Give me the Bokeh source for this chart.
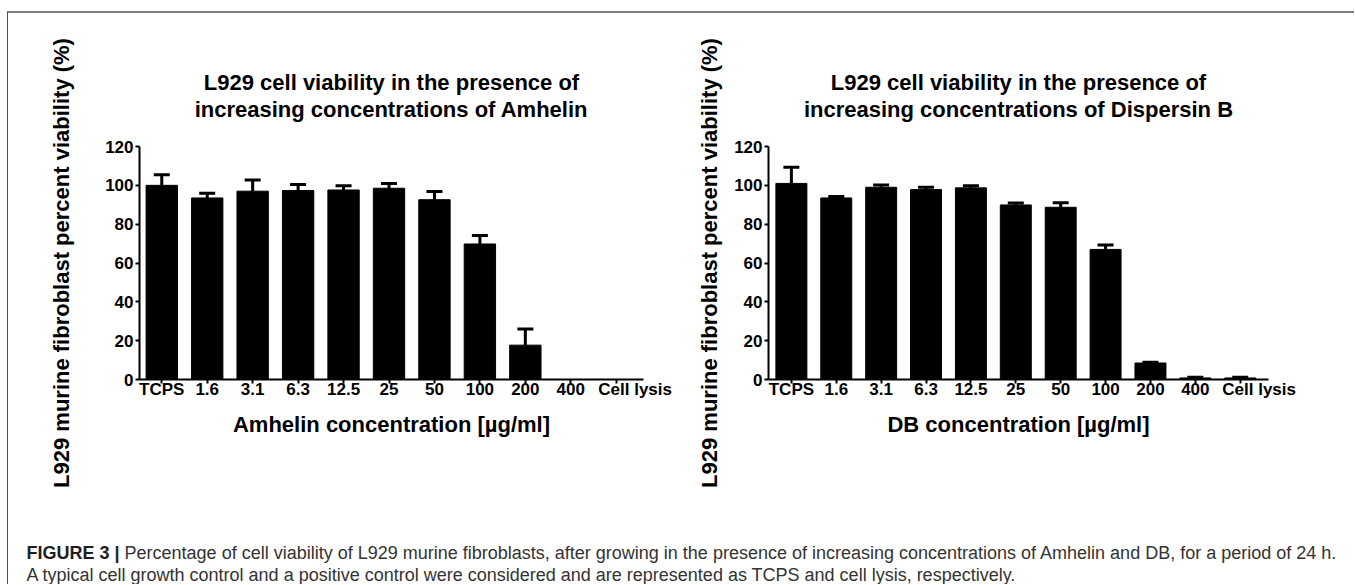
import numpy as np
from bokeh.plotting import figure
from bokeh.models import Range1d, FixedTicker, ColumnDataSource, Whisker, TeeHead, Label, Title
from bokeh.layouts import row, column
from bokeh.embed import file_html
from bokeh.resources import INLINE

# ---------------- data ----------------
categories = ["TCPS", "1.6", "3.1", "6.3", "12.5", "25", "50", "100", "200", "400", "Cell lysis"]
amhelin_mean = [100.0, 93.5, 97.0, 97.3, 97.6, 98.5, 92.6, 69.8, 17.7, 0.0, 0.0]
amhelin_upper = [105.5, 95.9, 102.8, 100.4, 99.8, 101.0, 96.8, 74.2, 26.0, 0.0, 0.0]
db_mean = [101.0, 93.5, 99.0, 97.8, 98.7, 89.9, 88.7, 67.0, 8.5, 0.8, 0.8]
db_upper = [109.3, 94.2, 100.2, 99.0, 99.8, 90.9, 91.0, 69.3, 8.9, 1.1, 1.1]
y_ticks = [0, 20, 40, 60, 80, 100, 120]

y_label = "L929 murine fibroblast percent viability (%)"
left_title = ["L929 cell viability in the presence of", "increasing concentrations of Amhelin"]
right_title = ["L929 cell viability in the presence of", "increasing concentrations of Dispersin B"]
left_xlabel = "Amhelin concentration [\u00b5g/ml]"
right_xlabel = "DB concentration [\u00b5g/ml]"
caption_bold = "FIGURE 3 |"
caption_line1 = ("Percentage of cell viability of L929 murine fibroblasts, after growing in the presence "
                 "of increasing concentrations of Amhelin and DB, for a period of 24 h.")
caption_line2 = ("A typical cell growth control and a positive control were considered and are "
                 "represented as TCPS and cell lysis, respectively.")

FONT = "Liberation Sans"
NBSP = "\u00a0"


def make_panel(means, uppers, title_lines, xlabel, width, mb_left, mb_right,
               x_start, x_end, ylab_standoff, title_offset):
    xs = list(range(len(categories)))
    p = figure(width=width, height=512, output_backend="svg", toolbar_location=None,
               x_range=Range1d(x_start, x_end), y_range=Range1d(0, 120),
               min_border_left=mb_left, min_border_right=mb_right,
               min_border_top=133, min_border_bottom=146, title=None)
    p.xgrid.visible = False
    p.ygrid.visible = False
    p.outline_line_color = None
    p.background_fill_color = "white"
    p.border_fill_color = "white"

    p.vbar(x=xs, top=means, width=0.69, fill_color="black", line_color="black")

    keep = [i for i in xs if uppers[i] > 0]
    src = ColumnDataSource(dict(x=[xs[i] for i in keep],
                                lower=[means[i] for i in keep],
                                upper=[uppers[i] for i in keep]))
    w = Whisker(source=src, base="x", lower="lower", upper="upper",
                line_color="black", line_width=3,
                upper_head=TeeHead(size=16, line_width=3, line_color="black"),
                lower_head=None)
    p.add_layout(w)

    # title: a thin spacer next to the plot area, then line 2, then line 1
    p.add_layout(Title(text=" ", text_font_size="1px", standoff=22), "above")
    p.add_layout(Title(text=title_lines[1], align="center", text_font=FONT,
                       text_font_style="bold", text_font_size="22px", text_color="black",
                       standoff=0, offset=title_offset), "above")
    p.add_layout(Title(text=title_lines[0], align="center", text_font=FONT,
                       text_font_style="bold", text_font_size="22px", text_color="black",
                       standoff=0, offset=title_offset), "above")

    for ax in (p.xaxis[0], p.yaxis[0]):
        ax.axis_line_width = 2
        ax.axis_line_color = "black"
        ax.major_tick_line_width = 2
        ax.major_tick_line_color = "black"
        ax.major_tick_in = 0
        ax.major_tick_out = 4
        ax.minor_tick_line_color = None
        ax.major_label_text_font = FONT
        ax.major_label_text_font_style = "bold"
        ax.major_label_text_font_size = "17px"
        ax.major_label_text_color = "black"
        ax.axis_label_text_font = FONT
        ax.axis_label_text_font_style = "bold"
        ax.axis_label_text_font_size = "22px"
        ax.axis_label_text_color = "black"

    overrides = {i: c for i, c in enumerate(categories)}
    overrides[len(categories) - 1] = NBSP * 8 + categories[-1]
    p.xaxis.ticker = FixedTicker(ticks=xs)
    p.xaxis.major_label_overrides = overrides
    p.xaxis.major_label_standoff = -4
    p.xaxis.axis_label = xlabel
    p.xaxis.axis_label_standoff = 10

    p.yaxis.ticker = FixedTicker(ticks=y_ticks)
    p.yaxis.major_label_standoff = 2
    p.yaxis.axis_label = y_label
    p.yaxis.axis_label_standoff = ylab_standoff
    return p


p1 = make_panel(amhelin_mean, amhelin_upper, left_title, left_xlabel,
                width=670, mb_left=131, mb_right=35, x_start=-0.49, x_end=10.6,
                ylab_standoff=28, title_offset=0)
p2 = make_panel(db_mean, db_upper, right_title, right_xlabel,
                width=676, mb_left=90, mb_right=86, x_start=-0.51, x_end=10.63,
                ylab_standoff=9, title_offset=14)

# caption
p3 = figure(width=1346, height=59, output_backend="svg", toolbar_location=None,
            x_range=Range1d(0, 1346), y_range=Range1d(0, 59), min_border=0,
            x_axis_location=None, y_axis_location=None, title=None)
p3.xgrid.visible = False
p3.ygrid.visible = False
p3.outline_line_color = None

cap_size = 18
bold_w = 5.448 * cap_size
p3.add_layout(Label(x=18, y=32, text=caption_bold, text_font=FONT, text_font_style="bold",
                    text_font_size=f"{cap_size}px", text_color="#1e1e1e",
                    text_baseline="alphabetic"))
p3.add_layout(Label(x=18 + bold_w, y=32, text=caption_line1, text_font=FONT,
                    text_font_size=f"{cap_size}px", text_color="#333333",
                    text_baseline="alphabetic"))
p3.add_layout(Label(x=18, y=10, text=caption_line2, text_font=FONT,
                    text_font_size=f"{cap_size}px", text_color="#333333",
                    text_baseline="alphabetic"))

layout = column(row(p1, p2), p3,
                styles={"margin-left": "7px", "margin-top": "11px",
                        "border-top": "2px solid #7d7d7d", "border-left": "1px solid #505050"})

open("out.html", "w").write(file_html(layout, INLINE))
